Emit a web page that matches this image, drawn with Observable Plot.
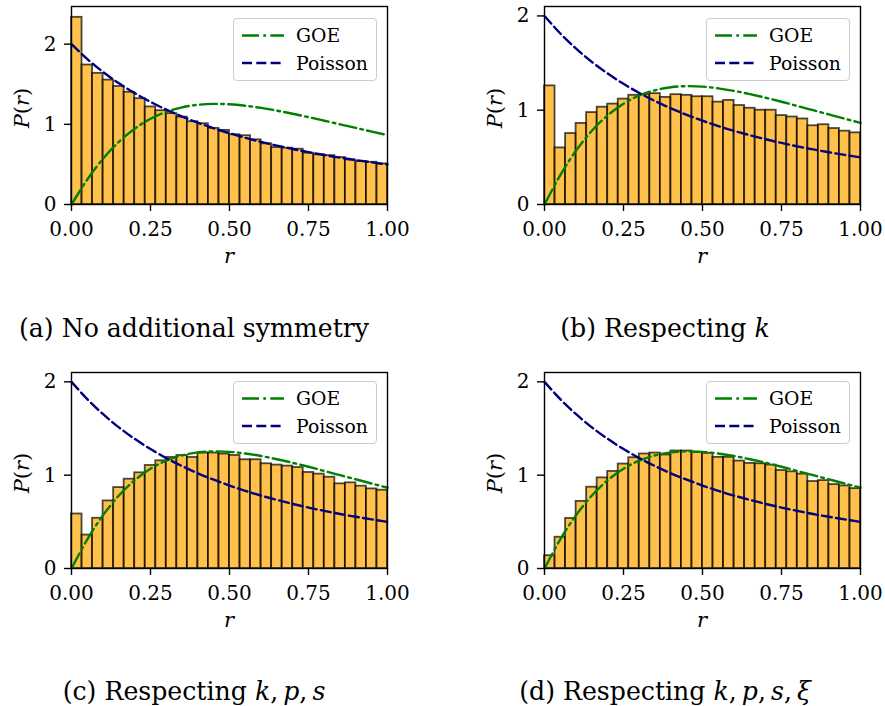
<!DOCTYPE html>
<html><head><meta charset="utf-8">
<script src="https://cdn.jsdelivr.net/npm/d3@7"></script>
<script src="https://cdn.jsdelivr.net/npm/@observablehq/plot@0.6"></script>
<style>
body{margin:0;background:#fff;}
#root{position:relative;width:885px;height:706px;font-family:"DejaVu Serif",serif;color:#000;overflow:hidden;}
.panel{position:absolute;width:442px;height:270px;}
.panel svg{max-width:none;}
.legend{position:absolute;width:142px;height:61px;border:1px solid #cccccc;border-radius:4px;background:rgba(255,255,255,0.8);}
.legend svg{position:absolute;left:0;top:0;}
.legend span{position:absolute;font-size:18.8px;line-height:1;white-space:nowrap;}
.ylab{position:absolute;font-size:21px;transform:translate(-50%,-50%) rotate(-90deg);white-space:nowrap;}
.xlab{position:absolute;font-size:21px;transform:translateX(-50%);white-space:nowrap;font-style:italic;}
.cap{position:absolute;font-size:25.2px;line-height:1;transform:translateX(-50%);white-space:nowrap;}
</style></head><body><div id="root"></div>
<script>
// ---- data ----
const nBins = 30;
const histA = [2.335,1.74,1.636,1.552,1.473,1.40,1.32,1.217,1.17,1.134,1.09,1.033,1.008,0.95,0.925,0.87,0.858,0.807,0.757,0.711,0.703,0.69,0.64,0.62,0.61,0.586,0.556,0.535,0.527,0.506];
const histB = [1.258,0.60,0.753,0.86,0.975,1.032,1.065,1.118,1.158,1.165,1.176,1.136,1.165,1.158,1.143,1.143,1.086,1.104,1.05,1.021,1.0,1.0,0.943,0.928,0.907,0.835,0.846,0.806,0.778,0.76];
const histC = [0.584,0.358,0.538,0.724,0.867,0.957,1.025,1.104,1.154,1.19,1.211,1.19,1.237,1.237,1.226,1.211,1.165,1.165,1.122,1.108,1.097,1.082,1.029,1.011,0.978,0.907,0.918,0.882,0.853,0.839];
const histD = [0.137,0.335,0.536,0.719,0.871,0.971,1.04,1.119,1.187,1.227,1.237,1.216,1.259,1.259,1.245,1.234,1.191,1.191,1.151,1.126,1.122,1.108,1.05,1.036,1.011,0.932,0.942,0.899,0.885,0.856];
const rGrid   = [0,0.05,0.1,0.15,0.2,0.25,0.3,0.35,0.4,0.45,0.5,0.55,0.6,0.65,0.7,0.75,0.8,0.85,0.9,0.95,1.0];
const goeVals = [0,0.312,0.572,0.782,0.946,1.069,1.156,1.212,1.244,1.255,1.250,1.232,1.205,1.171,1.132,1.090,1.045,1.000,0.955,0.910,0.866];
const poiVals = [2,1.814,1.653,1.512,1.389,1.28,1.183,1.097,1.020,0.951,0.889,0.832,0.781,0.735,0.692,0.653,0.617,0.584,0.554,0.526,0.5];
const xTicks = [0,0.25,0.5,0.75,1];
const yTicks = [0,1,2];
const seriesNames = ["GOE","Poisson"];
const captions = [
  '(a) No additional symmetry',
  '(b) Respecting <i>k</i>',
  '(c) Respecting <i>k</i>,&#8201;<i>p</i>,&#8201;<i>s</i>',
  '(d) Respecting <i>k</i>,&#8201;<i>p</i>,&#8201;<i>s</i>,&#8201;<i>ξ</i>'
];
const panels = [
  {hist: histA, ymax: 2.47},
  {hist: histB, ymax: 2.1},
  {hist: histC, ymax: 2.1},
  {hist: histD, ymax: 2.1}
];

// ---- drawing ----
const root = document.getElementById("root");
const goe = rGrid.map((r,i)=>({r, p: goeVals[i]}));
const poi = rGrid.map((r,i)=>({r, p: poiVals[i]}));
const goeDash = "17,4.3,2.7,4.3";
const poiDash = "10,4.3";
const goeColor = "#008000", poiColor = "#000080";

const layout = [
  {left:0, top:0, mb:66, legTop:18, capTop:315.5},
  {left:473, top:0, mb:66, legTop:18, capTop:315.5},
  {left:0, top:366, mb:68, legTop:381, capTop:678.5},
  {left:473, top:366, mb:68, legTop:381, capTop:678.5}
];
const capX = [194, 665];

panels.forEach((pn, k) => {
  const L = layout[k];
  const bars = pn.hist.map((v,i)=>({x1: i/nBins, x2: (i+1)/nBins, p: v}));
  const chart = Plot.plot({
    width: 442, height: 270,
    marginLeft: 71, marginRight: 55, marginTop: 6, marginBottom: L.mb,
    style: {fontFamily: '"DejaVu Serif", serif', fontSize: "20px", color: "#000", background: "transparent", overflow: "visible"},
    x: {domain: [0,1]},
    y: {domain: [0,pn.ymax]},
    marks: [
      Plot.rectY(bars, {x1: "x1", x2: "x2", y: "p", fill: "orange", fillOpacity: 0.7, stroke: "black", strokeOpacity: 0.7, strokeWidth: 1.8, inset: 0}),
      Plot.line(goe, {x: "r", y: "p", stroke: goeColor, strokeWidth: 2.4, strokeDasharray: goeDash, curve: "natural"}),
      Plot.line(poi, {x: "r", y: "p", stroke: poiColor, strokeWidth: 2.4, strokeDasharray: poiDash, curve: "natural"}),
      Plot.frame({stroke: "black", strokeWidth: 1.4}),
      Plot.axisX({ticks: xTicks, tickFormat: d3.format(".2f"), tickSize: 7, tickPadding: 10, label: null, strokeWidth: 1.4}),
      Plot.axisY({ticks: yTicks, tickFormat: d3.format("d"), tickSize: 7, tickPadding: 8, label: null, strokeWidth: 1.4})
    ]
  });
  const wrap = document.createElement("div");
  wrap.className = "panel";
  wrap.style.left = L.left + "px"; wrap.style.top = L.top + "px";
  wrap.appendChild(chart);
  root.appendChild(wrap);

  // axis labels
  const frameTop = L.top + 6, frameBottom = L.top + 270 - L.mb;
  const yl = document.createElement("div");
  yl.className = "ylab";
  yl.innerHTML = "<i>P</i>(<i>r</i>)";
  yl.style.left = (L.left + 22) + "px";
  yl.style.top = ((frameTop + frameBottom)/2 + 3) + "px";
  root.appendChild(yl);
  const xl = document.createElement("div");
  xl.className = "xlab";
  xl.textContent = "r";
  xl.style.left = (L.left + 229) + "px";
  xl.style.top = (frameBottom + 39.5) + "px";
  root.appendChild(xl);

  // legend
  const lg = document.createElement("div");
  lg.className = "legend";
  lg.style.left = (L.left + 233) + "px";
  lg.style.top = L.legTop + "px";
  lg.innerHTML =
    `<svg width="142" height="61">
      <line x1="8" x2="50" y1="16.5" y2="16.5" stroke="${goeColor}" stroke-width="2.4" stroke-dasharray="${goeDash}"/>
      <line x1="8" x2="50" y1="44" y2="44" stroke="${poiColor}" stroke-width="2.4" stroke-dasharray="${poiDash}"/>
    </svg>
    <span style="left:62px;top:8px">${seriesNames[0]}</span>
    <span style="left:62px;top:36px">${seriesNames[1]}</span>`;
  root.appendChild(lg);

  // caption
  const cp = document.createElement("div");
  cp.className = "cap";
  cp.innerHTML = captions[k];
  cp.style.left = capX[k % 2] + "px";
  cp.style.top = L.capTop + "px";
  root.appendChild(cp);
});
</script></body></html>
